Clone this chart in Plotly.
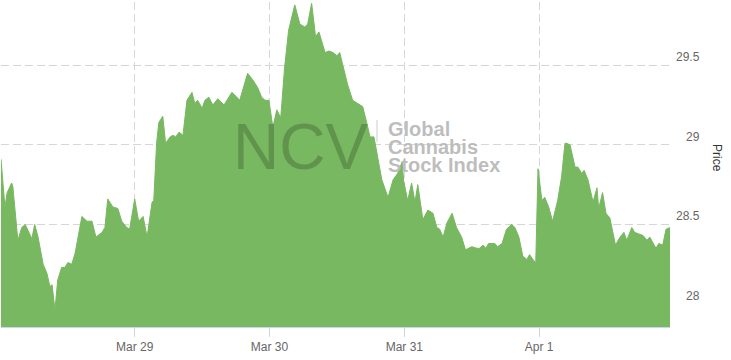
import pandas as pd
import plotly.graph_objects as go

start = "2021-03-28 00:00"
hours = [0.2, 0.9, 1.3, 2.1, 2.3, 2.8, 3.2, 3.9, 4.5, 5.7, 6.2, 6.8, 7.7, 8.4, 8.9, 9.3, 9.8, 10.3,
         11.0, 11.6, 12.1, 12.8, 13.4, 14.6, 15.5, 16.4, 17.1, 18.2, 18.7, 19.2, 20.1, 21.0, 21.7,
         22.6, 23.1, 24.0, 24.7, 25.5, 26.2, 27.1, 27.4, 27.9, 28.3, 29.0, 29.5, 30.3, 30.8, 31.3,
         31.9, 32.6, 33.3, 34.2, 34.7, 35.2, 36.0, 36.5, 37.2, 37.9, 38.8, 39.9, 41.3, 42.2, 42.7,
         44.1, 45.0, 45.9, 46.6, 47.2, 47.9, 48.6, 49.3, 50.0, 50.7, 51.4, 52.5, 53.4, 54.3, 54.8,
         55.5, 56.2, 56.8, 57.9, 58.6, 59.3, 60.0, 60.5, 61.1, 61.9, 62.8, 63.7, 64.6, 65.3, 65.9,
         66.6, 67.1, 68.0, 69.1, 70.0, 70.8, 71.6, 71.9, 72.6, 73.3, 73.9, 74.4, 75.3, 76.2, 77.1,
         77.8, 78.3, 78.9, 79.6, 80.5, 81.3, 82.2, 82.9, 84.0, 84.9, 85.4, 86.0, 86.5, 87.0, 88.1,
         88.6, 89.4, 90.2, 91.1, 91.7, 92.4, 93.1, 93.8, 94.3, 95.1, 95.4, 95.8, 96.5, 97.0, 97.7,
         98.4, 99.3, 100.0, 100.6, 100.9, 101.5, 102.4, 102.9, 103.6, 104.0, 104.7, 105.6, 106.3,
         106.6, 107.3, 107.9, 108.6, 109.6, 110.4, 111.1, 111.6, 112.5, 113.0, 113.6, 114.5, 115.2,
         115.7, 116.8, 117.3, 118.0, 118.6, 119.3]
prices = [28.91, 28.61, 28.70, 28.76, 28.74, 28.55, 28.40, 28.48, 28.50, 28.41, 28.50, 28.42, 28.25,
          28.19, 28.11, 28.12, 27.96, 28.15, 28.23, 28.23, 28.26, 28.25, 28.32, 28.55, 28.52, 28.52,
          28.42, 28.45, 28.48, 28.66, 28.61, 28.60, 28.52, 28.48, 28.47, 28.66, 28.52, 28.55, 28.42,
          28.64, 28.65, 29.01, 29.14, 29.18, 29.01, 29.05, 29.06, 29.05, 29.08, 29.06, 29.28, 29.33,
          29.26, 29.28, 29.23, 29.28, 29.30, 29.25, 29.29, 29.25, 29.33, 29.30, 29.28, 29.45, 29.41,
          29.36, 29.30, 29.28, 29.28, 29.11, 29.22, 29.17, 29.49, 29.72, 29.88, 29.76, 29.74, 29.76,
          29.89, 29.68, 29.71, 29.58, 29.59, 29.58, 29.56, 29.58, 29.49, 29.38, 29.28, 29.26, 29.24,
          29.14, 29.05, 29.05, 28.95, 28.78, 28.67, 28.78, 28.82, 28.89, 28.77, 28.65, 28.76, 28.64,
          28.75, 28.53, 28.59, 28.57, 28.48, 28.47, 28.42, 28.51, 28.57, 28.48, 28.42, 28.34, 28.36,
          28.35, 28.35, 28.37, 28.35, 28.38, 28.38, 28.36, 28.38, 28.47, 28.50, 28.48, 28.42, 28.30,
          28.28, 28.31, 28.27, 28.26, 28.85, 28.65, 28.67, 28.61, 28.52, 28.65, 28.80, 29.01, 29.01,
          29.00, 28.86, 28.86, 28.82, 28.84, 28.78, 28.64, 28.73, 28.60, 28.70, 28.57, 28.54, 28.37,
          28.42, 28.45, 28.40, 28.48, 28.45, 28.44, 28.43, 28.40, 28.42, 28.35, 28.38, 28.37, 28.47,
          28.48]
y_ticks = [28, 28.5, 29, 29.5]
y_tick_labels = ["\u2007\u200828", "28.5", "\u2007\u200829", "29.5"]
y_range = [27.855, 29.898]

times = pd.Timestamp(start) + pd.to_timedelta(hours, unit="h")

GREEN = "#78b860"
FONT = "Liberation Sans, Arial, sans-serif"

fig = go.Figure()
fig.add_trace(go.Scatter(
    x=times, y=prices, mode="lines", fill="tozeroy",
    line=dict(color=GREEN, width=1), fillcolor=GREEN, hoverinfo="skip",
))

# plot area geometry (pixels) used for paper placement
L, R, T, B = 1, 670, 2, 327
def px(x):
    return (x - L) / (R - L)
def py(y):
    return (B - y) / (B - T)

fig.update_layout(
    width=731, height=360,
    margin=dict(l=L, r=731 - R, t=T, b=360 - B),
    paper_bgcolor="white", plot_bgcolor="white",
    showlegend=False,
    font=dict(family=FONT, size=12, color="#666666"),
    xaxis=dict(
        type="date", range=[times[0], times[-1]],
        tick0="2021-03-29", dtick=86400000, tickformat="%b %-d",
        showgrid=True, gridcolor="#d6d6d6", griddash="8px,4px", gridwidth=1,
        showline=True, linecolor="#ccd6eb", linewidth=1,
        ticks="outside", ticklen=9, tickcolor="#ccd6eb",
        tickfont=dict(size=12, color="#666666"), zeroline=False,
    ),
    yaxis=dict(
        side="right", range=y_range,
        tickvals=y_ticks, ticktext=y_tick_labels,
        ticklabelposition="outside top", ticklabelstandoff=5,
        showgrid=True, gridcolor="#d6d6d6", griddash="8px,4px", gridwidth=1,
        zeroline=False, showline=False, ticks="",
        tickfont=dict(size=12, color="#666666"),
    ),
    annotations=[
        dict(xref="paper", yref="paper", x=px(717), y=py(158), text="Price",
             xanchor="center", yanchor="middle",
             textangle=90, showarrow=False, font=dict(size=12, color="#333333")),
        dict(xref="paper", yref="paper", x=px(231), y=py(146.5), text="NCV",
             xanchor="left", yanchor="middle", showarrow=False,
             font=dict(family=FONT, size=64, color="rgba(0,0,0,0.2)")),
        dict(xref="paper", yref="paper", x=px(386), y=py(129), text="<b>Global</b>",
             xanchor="left", yanchor="middle", showarrow=False,
             font=dict(family=FONT, size=20, color="rgba(185,185,185,0.95)")),
        dict(xref="paper", yref="paper", x=px(386), y=py(147), text="<b>Cannabis</b>",
             xanchor="left", yanchor="middle", showarrow=False,
             font=dict(family=FONT, size=20, color="rgba(185,185,185,0.95)")),
        dict(xref="paper", yref="paper", x=px(386), y=py(165), text="<b>Stock Index</b>",
             xanchor="left", yanchor="middle", showarrow=False,
             font=dict(family=FONT, size=20, color="rgba(185,185,185,0.95)")),
    ],
    shapes=[
        dict(type="line", xref="paper", yref="paper", x0=px(377), x1=px(377),
             y0=py(120), y1=py(142), line=dict(color="#cccccc", width=1)),
    ],
)

fig.write_html("out.html")
